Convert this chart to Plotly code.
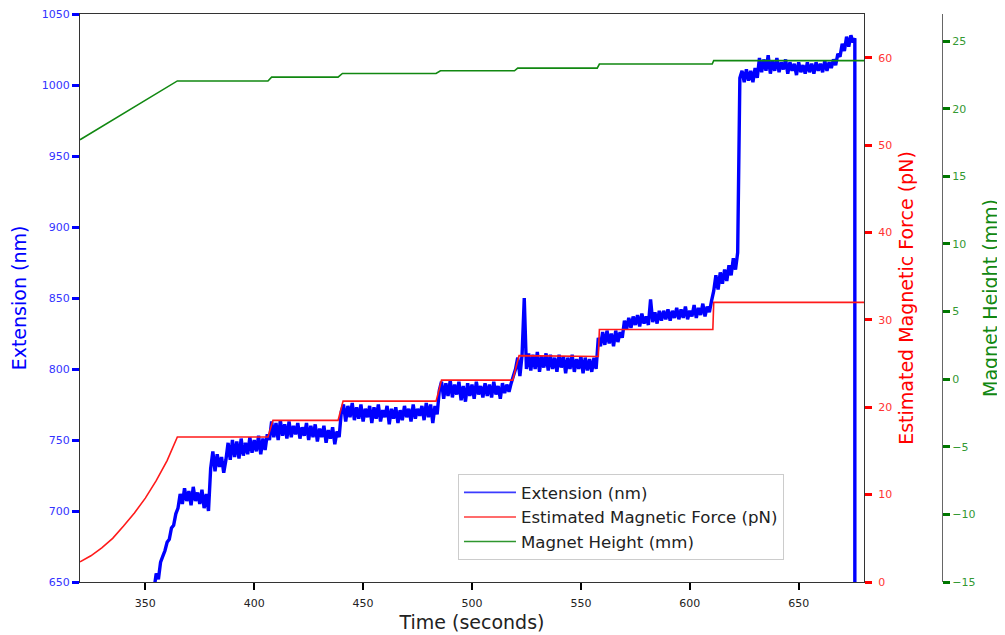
import plotly.graph_objects as go

# ---- Extension (nm), sampled once per second from t = 354 s ----
ext_start_time = 354
extension_nm = [
    645, 656, 652, 664, 668, 672,
    678, 680, 688, 690, 698, 702, 712, 705, 716, 707,
    714, 704, 717, 707, 713, 705, 715, 702, 712, 700,
    730, 742, 728, 740, 731, 738, 727, 736, 748, 736,
    750, 738, 749, 737, 751, 739, 748, 740, 752, 741,
    750, 742, 753, 740, 751, 743, 754, 750, 763, 752,
    762, 750, 764, 753, 761, 751, 763, 752, 760, 754,
    762, 751, 759, 753, 762, 750, 760, 752, 761, 749,
    758, 752, 760, 748, 757, 751, 759, 747, 756, 752,
    770, 775, 763, 774, 766, 776, 764, 773, 765, 775,
    763, 772, 766, 774, 762, 773, 765, 775, 763, 771,
    766, 774, 761, 772, 765, 773, 762, 771, 764, 774,
    766, 772, 763, 775, 765, 772, 767, 774, 764, 776,
    766, 775, 762, 774, 768, 785, 791, 779, 790, 781,
    792, 780, 789, 782, 791, 778, 788, 777, 790, 781,
    789, 779, 791, 782, 788, 780, 790, 781, 789, 780,
    791, 782, 788, 779, 790, 783, 789, 784, 790, 795,
    800, 808, 795, 810, 850, 800, 811, 799, 810, 800,
    812, 798, 809, 801, 811, 799, 810, 800, 808, 798,
    810, 801, 809, 797, 808, 800, 810, 798, 807, 800,
    809, 797, 808, 799, 807, 798, 808, 800, 822, 816,
    826, 817, 827, 818, 825, 816, 827, 819, 826, 822,
    834, 828, 836, 829, 837, 831, 838, 830, 839, 832,
    837, 831, 849, 833, 840, 832, 841, 834, 841, 835,
    842, 834, 841, 836, 843, 835, 842, 836, 844, 835,
    841, 837, 845, 836, 843, 838, 846, 837, 844, 840,
    848, 855, 866, 856, 868, 860, 870, 862, 873, 866,
    878, 870, 882, 1005, 1010, 1002, 1011, 1003, 1010, 1002,
    1012, 1005, 1019, 1009, 1018, 1010, 1021, 1008, 1017, 1010,
    1019, 1009, 1016, 1011, 1018, 1008, 1016, 1010, 1015, 1007,
    1016, 1009, 1014, 1008, 1016, 1009, 1015, 1008, 1016, 1010,
    1015, 1009, 1017, 1010, 1016, 1012, 1018, 1014, 1022, 1020,
    1029, 1024, 1034, 1027, 1035, 1030,
]
drop_time = [675.8, 675.8]
drop_extension = [1033, 600]

# ---- Estimated magnetic force (pN) ----
force_time = [320, 325, 330, 335, 340, 345, 350, 355, 360, 364.7,
              406.3, 408.6, 438.5, 440.8, 483.5, 486, 518.7, 521.6,
              558, 558.5, 610.6, 611, 680]
force_pn = [2.3, 3.0, 3.9, 5.0, 6.4, 7.9, 9.6, 11.6, 13.9, 16.6,
            16.6, 18.5, 18.5, 20.7, 20.7, 23.1, 23.1, 25.9,
            25.8, 28.9, 28.9, 32.0, 32.0]

# ---- Magnet height (mm) ----
height_time = [320, 364.7, 406.3, 408, 438.5, 440.5, 483.5, 485.5,
               519.5, 521, 557.5, 558.5, 610.3, 611, 680]
height_mm = [17.7, 22.05, 22.05, 22.33, 22.33, 22.6, 22.6, 22.8,
             22.8, 23.0, 23.0, 23.3, 23.3, 23.55, 23.55]

# ---- Axis ticks ----
x_ticks = [350, 400, 450, 500, 550, 600, 650]
ext_ticks = [650, 700, 750, 800, 850, 900, 950, 1000, 1050]
force_ticks = [0, 10, 20, 30, 40, 50, 60]
height_ticks = [-15, -10, -5, 0, 5, 10, 15, 20, 25]
height_tick_text = ["\u221215", "\u221210", "\u22125", "0", "5", "10", "15", "20", "25"]

series_names = ["Extension (nm)", "Estimated Magnetic Force (pN)", "Magnet Height (mm)"]

ext_time = list(range(ext_start_time, ext_start_time + len(extension_nm))) + drop_time
ext_vals = extension_nm + drop_extension

FONT = "DejaVu Sans"
BLUE = "#0000ff"
RED = "#ff1a1a"
GREEN = "#118811"
LEGEND_COLORS = ["#3b3bff", "#ff3b3b", "#2e962e"]

fig = go.Figure()
fig.add_trace(go.Scatter(x=ext_time, y=ext_vals, mode="lines", name=series_names[0],
                         showlegend=False, legendgroup="ext",
                         line=dict(color=BLUE, width=3.4, simplify=False), yaxis="y"))
fig.add_trace(go.Scatter(x=force_time, y=force_pn, mode="lines", name=series_names[1],
                         showlegend=False, legendgroup="force",
                         line=dict(color=RED, width=1.6, simplify=False), yaxis="y2"))
fig.add_trace(go.Scatter(x=height_time, y=height_mm, mode="lines", name=series_names[2],
                         showlegend=False, legendgroup="height",
                         line=dict(color=GREEN, width=1.6, simplify=False), yaxis="y3"))
# legend entries (thin lines like the reference legend)
for name, col, grp, ax in zip(series_names, LEGEND_COLORS, ["ext", "force", "height"],
                              ["y", "y2", "y3"]):
    fig.add_trace(go.Scatter(x=[None], y=[None], mode="lines", name=name, legendgroup=grp,
                             line=dict(color=col, width=1.6), yaxis=ax))

# the page places the figure 8 px in from the top-left corner
fig.update_layout(
    width=997, height=627,
    margin=dict(l=72, r=63, t=6, b=53, autoexpand=False),
    paper_bgcolor="white", plot_bgcolor="white",
    font=dict(family=FONT, size=11, color="#222"),
    showlegend=True,
    legend=dict(x=0.4385, y=0.19, xanchor="left", yanchor="top",
                bgcolor="white", bordercolor="#cccccc", borderwidth=1,
                itemwidth=52, tracegroupgap=0,
                font=dict(family=FONT, size=16.6, color="#222")),
    xaxis=dict(domain=[0, 0.9095], range=[320, 680], tickvals=x_ticks,
               ticks="outside", ticklen=7, tickwidth=2, tickcolor="black",
               showline=True, linecolor="#333", linewidth=1, mirror=True,
               showgrid=False, zeroline=False, automargin=False,
               ticklabelstandoff=4,
               tickfont=dict(family=FONT, size=11, color="#222"),
               title=dict(text="Time (seconds)", font=dict(family=FONT, size=19, color="#222"),
                          standoff=6)),
    yaxis=dict(range=[650, 1050], tickvals=ext_ticks,
               ticks="outside", ticklen=7, tickwidth=2.5, tickcolor=BLUE,
               showline=True, linecolor="#333", linewidth=1, mirror=True,
               showgrid=False, zeroline=False, automargin=False,
               ticklabeloverflow="allow",
               tickfont=dict(family=FONT, size=11, color="#3333ff"),
               title=dict(text="Extension (nm)", font=dict(family=FONT, size=19, color=BLUE),
                          standoff=12)),
    yaxis2=dict(range=[0, 65], tickvals=force_ticks, overlaying="y", side="right",
                anchor="x", ticks="outside", ticklen=7, tickwidth=2.5, tickcolor="#ff0000",
                showline=False, showgrid=False, zeroline=False, automargin=False,
                ticklabelstandoff=4, ticklabeloverflow="allow",
                tickfont=dict(family=FONT, size=11, color="#ff3333"),
                title=dict(text="Estimated Magnetic Force (pN)",
                           font=dict(family=FONT, size=19, color="#ff0000"), standoff=8)),
    yaxis3=dict(range=[-15, 27], tickvals=height_ticks, ticktext=height_tick_text,
                overlaying="y", side="right", anchor="free", position=1.0,
                ticks="outside", ticklen=7, tickwidth=2.5, tickcolor="#007700",
                showline=True, linecolor="#666", linewidth=1,
                showgrid=False, zeroline=False, automargin=False,
                ticklabeloverflow="allow",
                tickfont=dict(family=FONT, size=11, color="#339933"),
                title=dict(text="Magnet Height (mm)",
                           font=dict(family=FONT, size=19, color="#118811"), standoff=9)),
)

fig.write_html("out.html")
